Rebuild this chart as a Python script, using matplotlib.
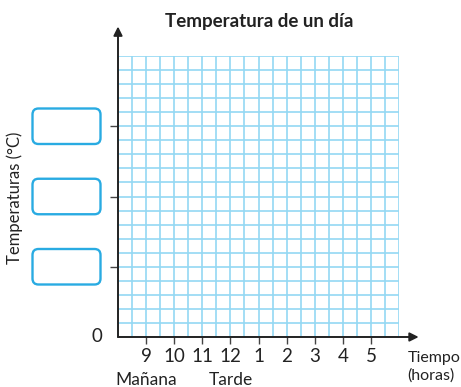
import matplotlib
matplotlib.use("Agg")
import matplotlib.pyplot as plt
from matplotlib.patches import FancyBboxPatch

plt.rcParams['font.family'] = ['Lato', 'DejaVu Sans']

# ---- data ----
hour_positions = [9, 10, 11, 12, 13, 14, 15, 16, 17]
hour_labels = ['9', '10', '11', '12', '1', '2', '3', '4', '5']
temp_box_ticks = [5, 10, 15]
period_labels = ['Mañana', 'Tarde']
period_positions = [9, 12]
title = 'Temperatura de un día'
ylabel = 'Temperaturas (°C)'
xlabel = 'Tiempo\n(horas)'

x_min, x_max, x_step = 8, 18, 0.5
y_min, y_max, y_step = 0, 20, 1

W, H, DPI = 461, 387, 100
fig = plt.figure(figsize=(W / DPI, H / DPI), dpi=DPI)
fig.patch.set_facecolor('white')

ax_l, ax_r, ax_t, ax_b = 118, 399, 56, 337  # pixel positions
ax = fig.add_axes([ax_l / W, (H - ax_b) / H, (ax_r - ax_l) / W, (ax_b - ax_t) / H])
ax.set_xlim(x_min, x_max)
ax.set_ylim(y_min, y_max)
for s in ax.spines.values():
    s.set_visible(False)

grid_col = '#94d8f3'
n_x = int(round((x_max - x_min) / x_step))
for i in range(n_x + 1):
    ax.axvline(x_min + i * x_step, color=grid_col, lw=1.2, zorder=1)
n_y = int(round((y_max - y_min) / y_step))
for j in range(n_y + 1):
    ax.axhline(y_min + j * y_step, color=grid_col, lw=1.2, zorder=1)

axis_col = '#222222'
# axes with arrows
ax.annotate('', xy=(x_min, 22.1), xytext=(x_min, y_min),
            arrowprops=dict(arrowstyle='-|>', color=axis_col, lw=1.4,
                            mutation_scale=13, shrinkA=0, shrinkB=0),
            annotation_clip=False, zorder=5)
ax.annotate('', xy=(18.7, y_min), xytext=(x_min, y_min),
            arrowprops=dict(arrowstyle='-|>', color=axis_col, lw=1.4,
                            mutation_scale=13, shrinkA=0, shrinkB=0),
            annotation_clip=False, zorder=5)

# ticks
ax.set_xticks(hour_positions)
ax.set_xticklabels(hour_labels, fontsize=13.5, color='#222222')
ax.set_yticks(temp_box_ticks)
ax.set_yticklabels([])
ax.tick_params(axis='x', direction='out', length=5, width=1, color='#444444', pad=3)
ax.tick_params(axis='y', direction='out', length=6, width=1, color='#444444')

ax.text(x_min - 0.55, 0, '0', ha='right', va='center', fontsize=13.5, color='#222222')

for lab, pos in zip(period_labels, period_positions):
    ax.text(pos, -3.05, lab, ha='center', va='center', fontsize=12.5, color='#222222')

ax.text(18.3, -2.15, xlabel, ha='left', va='center', fontsize=11.5,
        color='#222222', linespacing=1.3)

fig.text(259 / W, 1 - 21 / H, title, ha='center', va='center', fontsize=13.5,
         fontweight='bold', color='#222222')
fig.text(15 / W, 1 - 198 / H, ylabel, ha='center', va='center', rotation=90,
         fontsize=12, color='#222222')

# empty answer boxes aligned with the y ticks
box_col = '#29abe2'
bw, bh = 0.68, 0.355
for t in temp_box_ticks:
    yc = ax.transData.transform((x_min, t))[1] / DPI
    box = FancyBboxPatch((0.325, yc - bh / 2), bw, bh,
                         boxstyle='round,pad=0,rounding_size=0.06',
                         transform=fig.dpi_scale_trans, fill=False,
                         edgecolor=box_col, lw=1.7)
    fig.add_artist(box)

fig.savefig('out.png', dpi=DPI, facecolor='white')
